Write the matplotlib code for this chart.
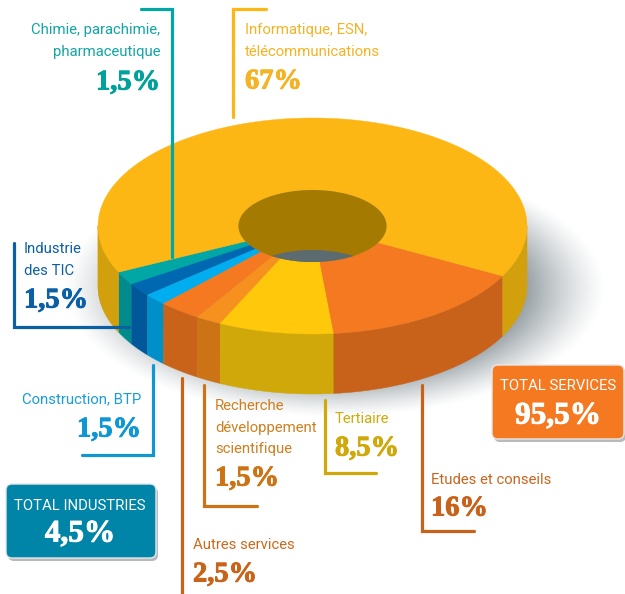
import numpy as np
import matplotlib
matplotlib.use('Agg')
import matplotlib.pyplot as plt
import matplotlib.patheffects as pe
from matplotlib.patches import FancyBboxPatch, Polygon

# Secteurs, dans l'ordre du tour du camembert
secteurs = ['Chimie', 'Industrie TIC', 'Construction', 'Autres services',
            'Recherche', 'Tertiaire', 'Etudes', 'Informatique']
# Part dessinee sur l'image (elle differe un peu des pourcentages affiches)
parts_dessinees = [2.03, 1.97, 1.75, 3.2, 1.94, 8.67, 15.75, 64.69]
couleurs_dessus = ['#00A7A5', '#0067B1', '#00AEEF', '#F47920',
                   '#F6901E', '#FFC80B', '#F47920', '#FDB714']
couleurs_cote = ['#008C8C', '#00579A', '#008FC9', '#C96319',
                 '#CC7415', '#D1A80A', '#C8621A', '#D1A00C']

# Textes
chimie = ['Chimie, parachimie,', 'pharmaceutique']
info = ['Informatique, ESN,', 'télécommunications']
tic = ['Industrie', 'des TIC']
recherche = ['Recherche', 'développement', 'scientifique']

# Geometrie du disque en pixels
CX, CY = 312.5, 226
RX, RY = 214.5, 108
TROU_RX, TROU_RY = 74, 36
EPAIS = 60
DEPART = 205.3

SANS = ['Roboto', 'Liberation Sans']
SERIF = ['Liberation Serif']


def arc(rx, ry, t0, t1, dy=0):
    t = np.radians(np.linspace(t0, t1, max(int(abs(t1 - t0)), 2) + 1))
    return np.column_stack([CX + rx * np.cos(t), CY + dy - ry * np.sin(t)])


def label(x, y, s, c, ha='left', size=10.7):
    ax.text(x, y, s, color=c, ha=ha, va='center', fontsize=size, family=SANS)


def chiffre(x, y, s, c, ha='left', size=20.5):
    t = ax.text(x, y + 2, s, color=c, ha=ha, va='center', fontsize=size,
                family=SERIF, fontweight='bold', zorder=8)
    # le chiffre de l'original est plus gras
    t.set_path_effects([pe.withStroke(linewidth=0.7, foreground=c)])


def trait(xs, ys, c):
    ax.plot(xs, ys, color=c, lw=2.3, solid_capstyle='round',
            solid_joinstyle='miter', zorder=6)


def boite(x0, y0, x1, y1, c):
    ax.add_patch(FancyBboxPatch((x0 + 2, y0 + 3), x1 - x0, y1 - y0,
                                boxstyle='round,pad=0,rounding_size=6',
                                fc='#B5BBBD', ec='none', zorder=6))
    ax.add_patch(FancyBboxPatch((x0, y0), x1 - x0, y1 - y0,
                                boxstyle='round,pad=0,rounding_size=6',
                                fc=c, ec='#E8E8E8', lw=1, zorder=7))


fig = plt.figure(figsize=(6.25, 5.94), dpi=100)
ax = fig.add_axes([0, 0, 1, 1])

# Ombre sous le disque
gx, gy = np.meshgrid(np.linspace(0, 625, 313), np.linspace(0, 594, 298))
r = np.sqrt(((gx - 335) / 272) ** 2 + ((gy - 288) / 130) ** 2)
alpha = np.clip((1 - r) / 0.32, 0, 1) ** 1.3 * 0.85
ombre = np.zeros(gx.shape + (4,))
ombre[..., :3] = np.array([0x78, 0x84, 0x8A]) / 255
ombre[..., 3] = alpha
ax.imshow(ombre, extent=(0, 625, 594, 0), aspect='auto', zorder=1,
          interpolation='bilinear')

# Cotes puis dessus du disque
bornes = DEPART + np.cumsum([0] + parts_dessinees) * 3.6
for i, nom in enumerate(secteurs):
    t0, t1 = bornes[i], bornes[i + 1]
    for debut, fin in [(max(t0, 180), min(t1, 360)),
                       (max(t0, 540), min(t1, 720)),
                       (max(t0 - 360, 180), min(t1 - 360, 360))]:
        if fin > debut:
            bord = np.vstack([arc(RX, RY, debut, fin),
                              arc(RX, RY, fin, debut, EPAIS)])
            ax.add_patch(Polygon(bord, fc=couleurs_cote[i], ec=couleurs_cote[i],
                                 lw=0.3, zorder=2))
    dessus = np.vstack([arc(RX, RY, t0, t1), arc(TROU_RX, TROU_RY, t1, t0)])
    ax.add_patch(Polygon(dessus, fc=couleurs_dessus[i], ec=couleurs_dessus[i],
                         lw=0.3, zorder=3))

# Trou central et fond visible
trou = ax.add_patch(Polygon(arc(TROU_RX, TROU_RY, 0, 360), fc='#A57A00',
                            ec='none', zorder=4))
fond = ax.add_patch(Polygon(arc(TROU_RX, TROU_RY, 0, 360, EPAIS), fc='#5B6B70',
                            ec='none', zorder=5))
fond.set_clip_path(trou)

# Traits de rappel
trait([172, 172, 141], [257, 9, 9], '#00A7A5')
trait([266, 233, 233], [9, 9, 117], '#FDB714')
trait([14, 14, 129], [243, 327, 327], '#0B5FA5')
trait([153, 153, 82], [365, 455, 455], '#0F97D3')
trait([182, 182], [378, 600], '#C96319')
trait([204, 204, 257], [385, 506, 506], '#CC7415')
trait([324.5, 324.5, 376], [400, 473, 473], '#D1A80A')
trait([421.5, 421.5, 474], [385, 531, 531], '#C8621A')

# Libelles
for y, s in zip([30, 52], chimie):
    label(160, y, s, '#12A5A5', ha='right')
chiffre(160, 81, '1,5%', '#00A19B', ha='right')

for y, s in zip([30, 52], info):
    label(245, y, s, '#F5B324')
chiffre(245, 80, '67%', '#F5B324')

for y, s in zip([249, 271], tic):
    label(24, y, s, '#0B5FA5')
chiffre(24, 299, '1,5%', '#0B5FA5')

label(141, 399, 'Construction, BTP', '#1A9CD8', ha='right')
chiffre(141, 428, '1,5%', '#0F97D3', ha='right')

for y, s in zip([406, 428, 449], recherche):
    label(215, y, s, '#CF7F1F')
chiffre(215, 477, '1,5%', '#CC7415')

label(335, 419, 'Tertiaire', '#D1A80A')
chiffre(335, 447, '8,5%', '#D1A80A')

label(431, 480, 'Etudes et conseils', '#C8641F')
chiffre(431, 507, '16%', '#C8621A')

label(193, 545, 'Autres services', '#C96A1F')
chiffre(193, 573, '2,5%', '#C96319')

# Encadres totaux
boite(492, 365, 624, 439, '#F47920')
ax.text(558, 386, 'TOTAL SERVICES', color='white', ha='center', va='center',
        fontsize=10.7, family=SANS, zorder=8)
chiffre(558, 414, '95,5%', 'white', ha='center', size=22.5)

boite(6, 484, 156, 558, '#0085A8')
ax.text(80, 506, 'TOTAL INDUSTRIES', color='white', ha='center', va='center',
        fontsize=10.7, family=SANS, zorder=8)
chiffre(80, 532, '4,5%', 'white', ha='center', size=22.5)

ax.set_xlim(0, 625)
ax.set_ylim(594, 0)
ax.axis('off')
fig.savefig('out.png', dpi=100)
